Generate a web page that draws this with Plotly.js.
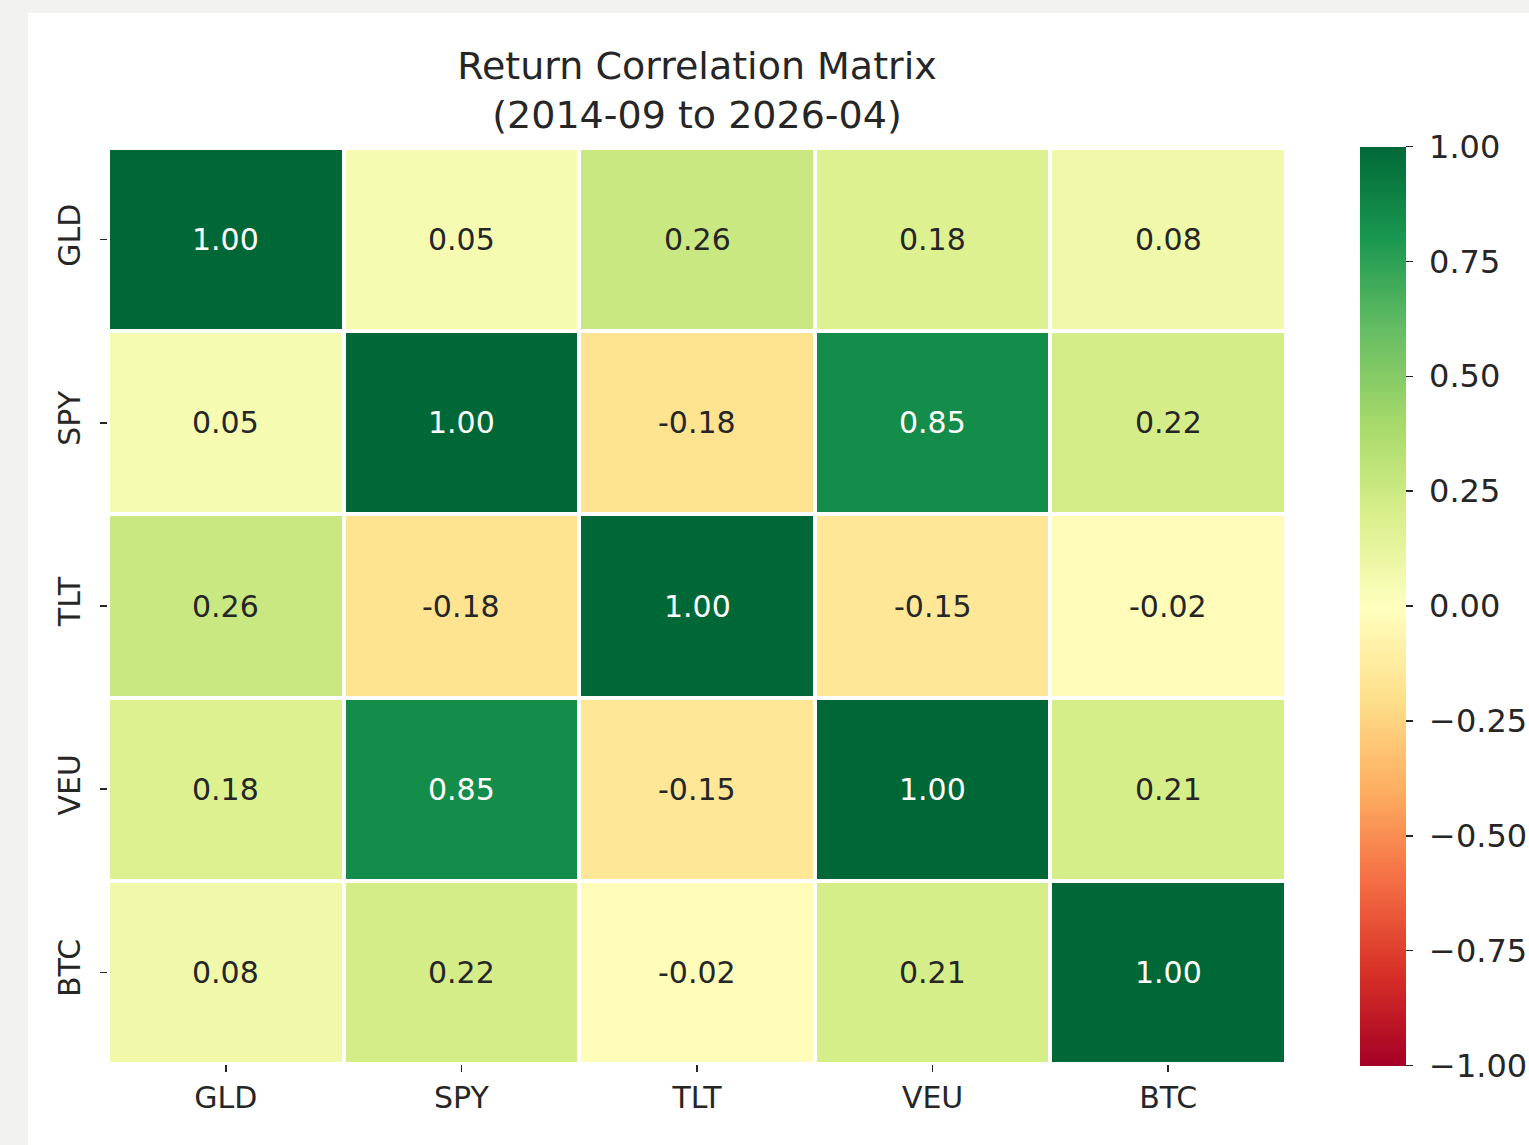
<!DOCTYPE html>
<html>
<head>
<meta charset="utf-8">
<script src="https://cdn.plot.ly/plotly-3.0.1.min.js"></script>
<style>
  html, body { margin: 0; padding: 0; background: #f2f2f1; width: 1529px; height: 1145px; overflow: hidden; }
  #card { position: absolute; left: 28px; top: 13px; width: 1501px; height: 1132px; background: #ffffff; overflow: hidden; }
  #chart { width: 1600px; height: 1132px; }
</style>
</head>
<body>
<div id="card"><div id="chart"></div></div>
<script>
const tickers = ["GLD", "SPY", "TLT", "VEU", "BTC"];
const rowGLD = [1.00, 0.05, 0.26, 0.18, 0.08];
const rowSPY = [0.05, 1.00, -0.18, 0.85, 0.22];
const rowTLT = [0.26, -0.18, 1.00, -0.15, -0.02];
const rowVEU = [0.18, 0.85, -0.15, 1.00, 0.21];
const rowBTC = [0.08, 0.22, -0.02, 0.21, 1.00];
const cbTickVals = [1.00, 0.75, 0.50, 0.25, 0.00, -0.25, -0.50, -0.75, -1.00];
const cbTickText = ["1.00", "0.75", "0.50", "0.25", "0.00", "\u22120.25", "\u22120.50", "\u22120.75", "\u22121.00"];

const z = [rowGLD, rowSPY, rowTLT, rowVEU, rowBTC];

const rdylgn = [
  [0.0, "#a50026"], [0.1, "#d73027"], [0.2, "#f46d43"], [0.3, "#fdae61"],
  [0.4, "#fee08b"], [0.5, "#ffffbf"], [0.6, "#d9ef8b"], [0.7, "#a6d96a"],
  [0.8, "#66bd63"], [0.9, "#1a9850"], [1.0, "#006837"]
];

const FONT = "DejaVu Sans, Verdana, sans-serif";

const annotations = [];
z.forEach((row, i) => {
  row.forEach((v, j) => {
    annotations.push({
      x: tickers[j], y: tickers[i], xref: "x", yref: "y",
      text: v.toFixed(2),
      showarrow: false,
      font: { family: FONT, size: 30, color: Math.abs(v) > 0.6 ? "#ffffff" : "#262626" }
    });
  });
});

const W = 1600, H = 1132;
const L = 80, R = W - 1258, T = 135, B = 81;
const plotW = W - L - R;

const trace = {
  type: "heatmap",
  x: tickers, y: tickers, z: z,
  zmin: -1, zmax: 1,
  colorscale: rdylgn,
  xgap: 4, ygap: 4,
  hoverinfo: "skip",
  colorbar: {
    x: (1332 - L) / plotW, xanchor: "left", xref: "paper", xpad: 0, ypad: 0,
    y: 0.5, yanchor: "middle",
    len: 919, lenmode: "pixels",
    thickness: 46, thicknessmode: "pixels",
    outlinewidth: 0,
    tickmode: "array", tickvals: cbTickVals,
    ticktext: cbTickText.map(t => "\u00a0" + t),
    ticks: "outside", ticklen: 7, tickwidth: 1.5, tickcolor: "#262626",
    tickfont: { family: FONT, size: 32, color: "#262626" }
  }
};

const layout = {
  width: W, height: H,
  margin: { l: L, r: R, t: T, b: B, autoexpand: false },
  paper_bgcolor: "#ffffff",
  plot_bgcolor: "#ffffff",
  font: { family: FONT, color: "#262626" },
  title: {
    text: "Return Correlation Matrix<br>(2014-09 to 2026-04)",
    font: { family: FONT, size: 38, color: "#262626" },
    x: (L + plotW / 2) / W, xref: "container", xanchor: "center",
    y: 1 - 66 / H, yref: "container", yanchor: "top"
  },
  xaxis: {
    type: "category", showgrid: false, zeroline: false, showline: false,
    ticks: "outside", ticklen: 7, tickwidth: 1.5, tickcolor: "#262626",
    tickfont: { family: FONT, size: 30, color: "#262626" }
  },
  yaxis: {
    type: "category", autorange: "reversed", showgrid: false, zeroline: false, showline: false,
    ticks: "outside", ticklen: 7, tickwidth: 1.5, tickcolor: "#262626",
    tickangle: -90, ticklabelstandoff: 8,
    tickfont: { family: FONT, size: 30, color: "#262626" }
  },
  annotations: annotations
};

Plotly.newPlot("chart", [trace], layout, { displayModeBar: false, staticPlot: true });
</script>
</body>
</html>
